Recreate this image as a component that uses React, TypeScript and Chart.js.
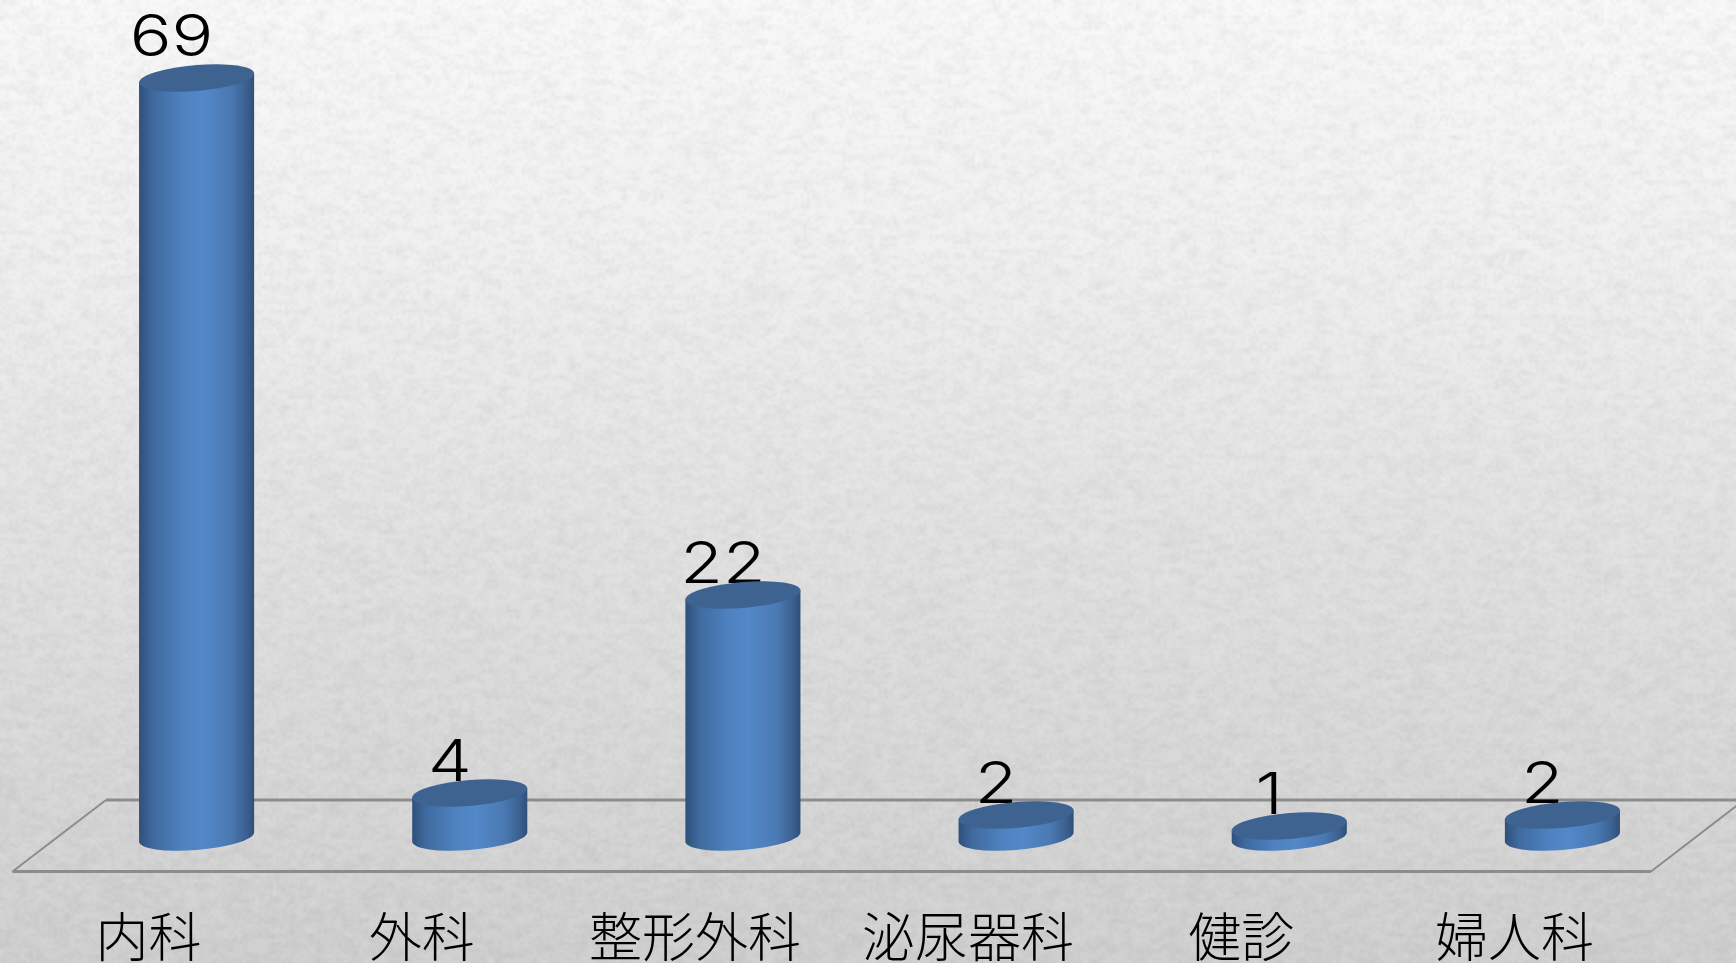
import React, { useEffect, useRef } from "react";
import { Chart, registerables } from "chart.js";

Chart.register(...registerables);

const categories = ["内科", "外科", "整形外科", "泌尿器科", "健診", "婦人科"];
const patients = [69, 4, 22, 2, 1, 2];

const WIDTH = 1736;
const HEIGHT = 963;
const DIGIT_FONT = '300 57px Inter, "Open Sans", sans-serif';
const DIGIT_STRETCH = 1.22;

function noiseLayer(ctx: CanvasRenderingContext2D, dx: number, dy: number, strength: number, seed: number) {
  const w = Math.ceil(WIDTH / dx);
  const h = Math.ceil(HEIGHT / dy);
  const off = document.createElement("canvas");
  off.width = w;
  off.height = h;
  const o = off.getContext("2d")!;
  const img = o.createImageData(w, h);
  let s = seed;
  for (let i = 0; i < img.data.length; i += 4) {
    s = (s * 1664525 + 1013904223) >>> 0;
    const v = s / 4294967296;
    const light = v > 0.5;
    img.data[i] = img.data[i + 1] = img.data[i + 2] = light ? 255 : 120;
    img.data[i + 3] = Math.abs(v - 0.5) * strength;
  }
  o.putImageData(img, 0, 0);
  ctx.save();
  ctx.imageSmoothingEnabled = true;
  ctx.drawImage(off, 0, 0, WIDTH, HEIGHT);
  ctx.restore();
}

function paintBackground(ctx: CanvasRenderingContext2D) {
  const g = ctx.createLinearGradient(0, 0, 0, HEIGHT);
  g.addColorStop(0, "#f9f9f9");
  g.addColorStop(0.25, "#f1f1f1");
  g.addColorStop(0.55, "#e2e2e2");
  g.addColorStop(1, "#cfcfcf");
  ctx.fillStyle = g;
  ctx.fillRect(0, 0, WIDTH, HEIGHT);
  noiseLayer(ctx, 9, 5, 34, 12345);
  noiseLayer(ctx, 3, 3, 30, 6789);
}

const cylinderPlugin = {
  id: "cylinder",
  beforeDraw(chart: Chart) {
    paintBackground(chart.ctx);
  },
  beforeDatasetsDraw(chart: Chart) {
    const { ctx, chartArea } = chart;
    const back = chartArea.bottom - 37;
    const front = chartArea.bottom + 34.5;
    ctx.save();
    ctx.strokeStyle = "#8c8c8c";
    ctx.lineJoin = "miter";
    ctx.lineWidth = 2;
    ctx.beginPath();
    ctx.moveTo(106, back);
    ctx.lineTo(12.5, front);
    ctx.moveTo(1651, front);
    ctx.lineTo(WIDTH + 8, back);
    ctx.stroke();
    ctx.lineWidth = 3;
    ctx.beginPath();
    ctx.moveTo(WIDTH + 8, back);
    ctx.lineTo(106, back);
    ctx.moveTo(12.5, front);
    ctx.lineTo(1651, front);
    ctx.stroke();
    ctx.restore();

    const meta = chart.getDatasetMeta(0);
    ctx.save();
    ctx.fillStyle = "#000";
    ctx.textAlign = "center";
    ctx.textBaseline = "alphabetic";
    ctx.font = DIGIT_FONT;
    meta.data.forEach((bar: any, i: number) => {
      const tall = patients[i] === Math.max(...patients);
      const x = bar.x + (tall ? -25 : -20);
      const y = bar.y + (tall ? -22 : -12);
      ctx.save();
      ctx.translate(x, y);
      ctx.scale(DIGIT_STRETCH, 1);
      ctx.fillText(String(patients[i]), 0, 0);
      ctx.restore();
    });
    ctx.restore();
  },
  beforeDatasetDraw() {
    return false;
  },
  afterDatasetsDraw(chart: Chart) {
    const { ctx } = chart;
    const meta = chart.getDatasetMeta(0);
    meta.data.forEach((bar: any) => {
      const a = bar.width / 2;
      const shear = -4.5 / 57.5;
      const c = 13;
      const h = bar.base - bar.y;
      ctx.save();
      ctx.transform(1, shear, 0, 1, bar.x, bar.y);

      const side = ctx.createLinearGradient(-a, 0, a, 0);
      side.addColorStop(0, "#2f5078");
      side.addColorStop(0.12, "#3f6a9f");
      side.addColorStop(0.38, "#4e82c0");
      side.addColorStop(0.55, "#5388c9");
      side.addColorStop(0.8, "#4a79b2");
      side.addColorStop(0.94, "#3a5f8e");
      side.addColorStop(1, "#2f4f76");
      ctx.fillStyle = side;
      ctx.beginPath();
      ctx.moveTo(-a, 0);
      ctx.lineTo(-a, h);
      ctx.ellipse(0, h, a, c, 0, Math.PI, 0, true);
      ctx.lineTo(a, 0);
      ctx.closePath();
      ctx.fill();

      ctx.fillStyle = "#3e6391";
      ctx.beginPath();
      ctx.ellipse(0, 0, a, c, 0, 0, Math.PI * 2);
      ctx.fill();
      ctx.restore();
    });
  },
};

export default function App() {
  const ref = useRef<HTMLCanvasElement | null>(null);
  useEffect(() => {
    document.body.style.margin = "0";
    const chart = new Chart(ref.current!, {
      type: "bar",
      data: {
        labels: categories,
        datasets: [
          {
            label: "件数",
            data: patients,
            backgroundColor: "#4f81bd",
            barPercentage: 115 / 273,
            categoryPercentage: 1,
          },
        ],
      },
      options: {
        responsive: false,
        animation: false,
        layout: { padding: { left: 60, right: 37, top: 1, bottom: 0 } },
        plugins: { legend: { display: false }, tooltip: { enabled: false } },
        scales: {
          y: { display: false, min: 0, max: 76 },
          x: {
            grid: { display: false },
            border: { display: false },
            afterFit(scale: any) {
              scale.height = 126;
            },
            ticks: {
              color: "#000",
              autoSkip: false,
              maxRotation: 0,
              minRotation: 0,
              labelOffset: -48,
              padding: 60,
              font: { family: '"Noto Sans CJK JP"', size: 53, weight: "300" },
            },
          },
        },
      },
      plugins: [cylinderPlugin as any],
    });
    return () => chart.destroy();
  }, []);
  return (
    <div style={{ position: "absolute", left: 0, top: 0, width: WIDTH, height: HEIGHT, overflow: "hidden" }}>
      <canvas ref={ref} width={WIDTH} height={HEIGHT} style={{ display: "block" }} />
    </div>
  );
}
